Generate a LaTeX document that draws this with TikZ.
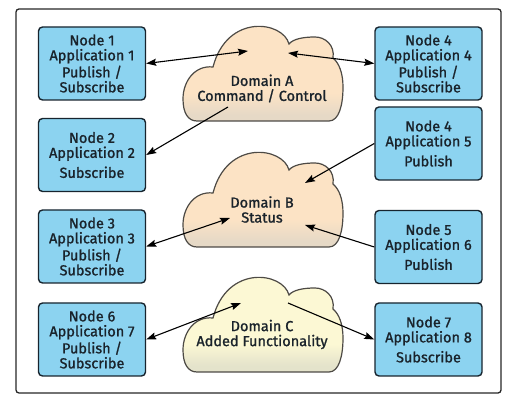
\documentclass[tikz,border=0pt]{standalone}
\usepackage{fontspec}
\setmainfont{Fira Sans}[FakeBold=1.2]
\usetikzlibrary{arrows.meta}

\definecolor{appblue}{HTML}{8CD3F0}
\definecolor{boxline}{HTML}{17242E}
\definecolor{inktext}{HTML}{1A232B}
\definecolor{peach}{HTML}{FCE3C5}
\definecolor{peachlow}{HTML}{E6D9C6}
\definecolor{cream}{HTML}{FCF8D4}
\definecolor{creamlow}{HTML}{E4E3CB}
\definecolor{cloudline}{HTML}{4D4A45}

\pgfdeclareverticalshading{peachcloud}{100bp}{color(0bp)=(peachlow); color(28bp)=(peachlow); color(38bp)=(peach); color(100bp)=(peach)}
\pgfdeclareverticalshading{creamcloud}{100bp}{color(0bp)=(creamlow); color(28bp)=(creamlow); color(38bp)=(cream); color(100bp)=(cream)}

\tikzset{
	pics/domaincloud/.style={code={
		\shade[draw=cloudline, line width=1.2pt, shading=#1]
			(14,0) -- (146,0)
			.. controls (156,0) and (160,16) .. (160,34)
			.. controls (160,48) and (156,58) .. (150,63)
			.. controls (152,76) and (142,84) .. (132,84)
			.. controls (120,84) and (110,82) .. (106,77)
			.. controls (100,100) and (44,108) .. (30,54)
			.. controls (12,56) and (0,40) .. (0,22)
			.. controls (0,8) and (5,0) .. (14,0) -- cycle;
	}}
}

\begin{document}
\begin{tikzpicture}[x=1pt, y=1pt,
	appbox/.style={draw=boxline, line width=1.4pt, fill=appblue, rounded corners=4pt,
		minimum width=107pt, minimum height=73pt, align=center, text=inktext,
		font=\fontsize{14.5}{15}\selectfont},
	domtext/.style={align=center, text=inktext, font=\fontsize{14.5}{15}\selectfont},
	link/.style={line width=1.1pt, >={Stealth[length=10pt,width=7pt,inset=1.5pt]}}]
	\useasboundingbox (0,0) rectangle (518,406);
	\draw[line width=1.3pt, draw=black!85, rounded corners=3pt] (16,13) rectangle (501,397);

	% the three domains
	\pic at (183,285) {domaincloud=peachcloud};
	\pic at (183,159) {domaincloud=peachcloud};
	\pic at (183,34) {domaincloud=creamcloud};
	\node[domtext] (domA) at (262,317.5) {Domain A\\Command / Control};
	\node[domtext] (domB) at (262,196.5) {Domain B\\Status};
	\node[domtext] (domC) at (262,71.5) {Domain C\\Added Functionality};

	\begin{scope}[every node/.style={appbox}]
	\node (app1) at (92,342.5) {Node 1\\Application 1\\[2pt]Publish /\\Subscribe};
	\node (app2) at (92,251) {Node 2\\Application 2\\[5pt]Subscribe};
	\node (app3) at (92,159.5) {Node 3\\Application 3\\[2pt]Publish /\\Subscribe};
	\node (app7) at (92,66.5) {Node 6\\Application 7\\[2pt]Publish /\\Subscribe};
	\node (app4) at (428.5,342.5) {Node 4\\Application 4\\[2pt]Publish /\\Subscribe};
	\node (app5) at (428.5,262.5) {Node 4\\Application 5\\[5pt]Publish};
	\node (app6) at (428.5,159) {Node 5\\Application 6\\[5pt]Publish};
	\node (app8) at (428.5,66.5) {Node 7\\Application 8\\[5pt]Subscribe};
	\end{scope}

	% ends inside the clouds
	\coordinate (inA1) at (248,355);
	\coordinate (outA2) at (228,299);
	\coordinate (inA4) at (288,353);
	\coordinate (inB5) at (305,223);
	\coordinate (inB3) at (230,188);
	\coordinate (inB6) at (305,181);
	\coordinate (inC7) at (241,103);
	\coordinate (outC8) at (288,103);

	\draw [link, <->] (app1.east) -- (inA1);
	\draw [link, ->] (outA2) -- (app2.east);
	\draw [link, <->] (inA4) -- (app4.west);
	\draw [link, ->] (app5.west) -- (inB5);
	\draw [link, <->] (app3.east) -- (inB3);
	\draw [link, ->] (app6.west) -- (inB6);
	\draw [link, <->] (app7.east) -- (inC7);
	\draw [link, ->] (outC8) -- (app8.west);
\end{tikzpicture}
\end{document}
